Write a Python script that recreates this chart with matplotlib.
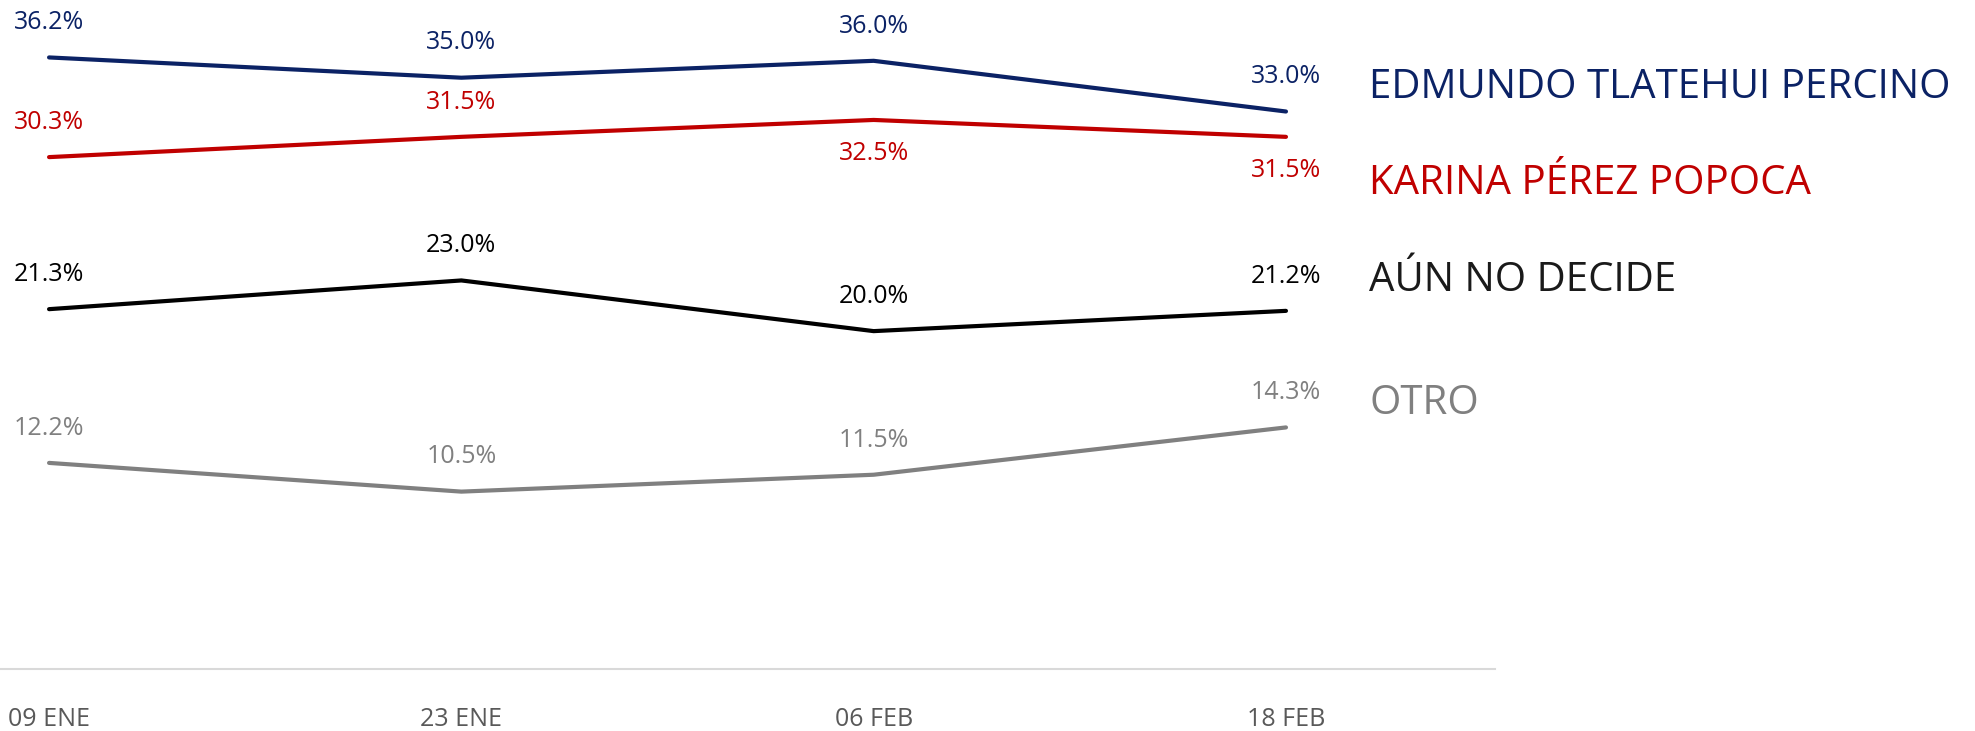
import matplotlib.pyplot as plt

fechas = ['09 ENE', '23 ENE', '06 FEB', '18 FEB']
candidatos = ['EDMUNDO TLATEHUI PERCINO', 'KARINA PÉREZ POPOCA', 'AÚN NO DECIDE', 'OTRO']
edmundo = [36.2, 35.0, 36.0, 33.0]
karina = [30.3, 31.5, 32.5, 31.5]
no_decide = [21.3, 23.0, 20.0, 21.2]
otro = [12.2, 10.5, 11.5, 14.3]

series = [edmundo, karina, no_decide, otro]
colores = ['#0b2265', '#c00000', '#000000', '#808080']
colores_nombre = ['#0b2265', '#c00000', '#1a1a1a', '#808080']
# label above (+) or below (-) each point
lado = [
    [1, 1, 1, 1],
    [1, 1, -1, -1],
    [1, 1, 1, 1],
    [1, 1, 1, 1],
]
nombre_y = [0.880, 0.748, 0.616, 0.447]

plt.rcParams['font.family'] = ['Open Sans', 'DejaVu Sans']

fig = plt.figure(figsize=(19.75, 7.31), dpi=100)
ax = fig.add_axes([0, 0.0848, 1495 / 1975, 1 - 0.0848])

x = list(range(len(fechas)))
for vals, col, lados in zip(series, colores, lado):
    ax.plot(x, vals, color=col, lw=3, solid_capstyle='round', solid_joinstyle='round')
    for xi, v, s in zip(x, vals, lados):
        off = 25 if s > 0 else -24
        ax.annotate(f'{v:.1f}%', (xi, v), xytext=(0, off), textcoords='offset points',
                    ha='center', va='center', fontsize=18, color=col, clip_on=False)

for nom, col, yy in zip(candidatos, colores_nombre, nombre_y):
    fig.text(1369 / 1975, yy, nom, color=col, fontsize=29, va='center', ha='left')

ax.set_xlim(-0.119, 3.507)
ax.set_ylim(0, 39.6)
ax.set_xticks(x)
ax.set_xticklabels(fechas, fontsize=18, color='#595959')
ax.tick_params(axis='x', length=0, pad=27)
ax.set_yticks([])
for s in ['top', 'right', 'left']:
    ax.spines[s].set_visible(False)
ax.spines['bottom'].set_color('#d9d9d9')
ax.spines['bottom'].set_linewidth(1.5)

fig.savefig('out.png', dpi=100)
